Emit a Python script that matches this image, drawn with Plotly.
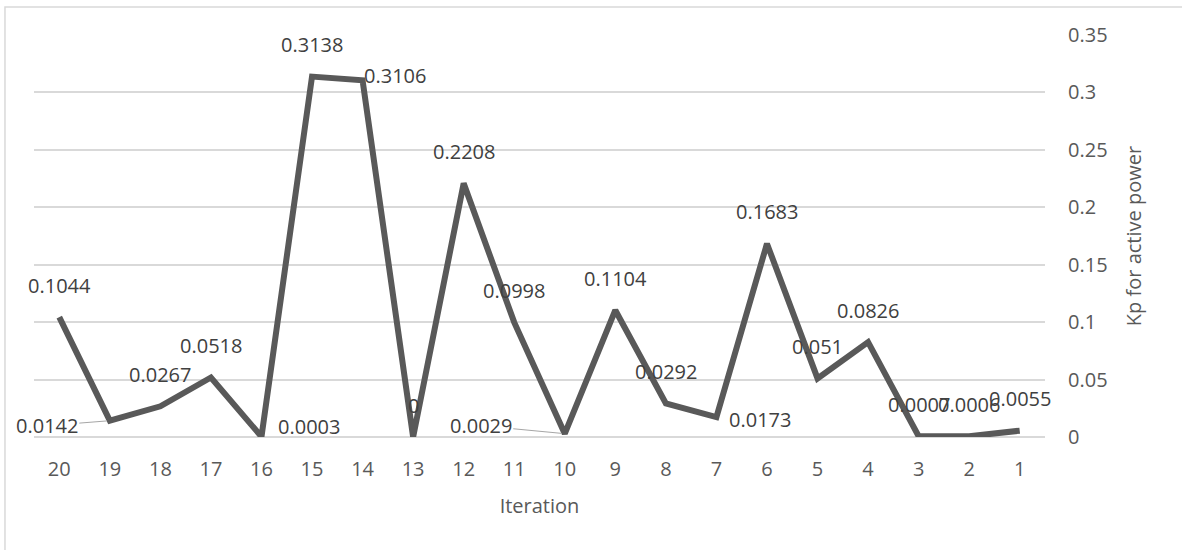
import plotly.graph_objects as go

# Iterations shown from 20 down to 1 (left to right)
iterations = ["20", "19", "18", "17", "16", "15", "14", "13", "12", "11",
              "10", "9", "8", "7", "6", "5", "4", "3", "2", "1"]
kp_values = [0.1044, 0.0142, 0.0267, 0.0518, 0.0003, 0.3138, 0.3106, 0, 0.2208, 0.0998,
             0.0029, 0.1104, 0.0292, 0.0173, 0.1683, 0.051, 0.0826, 0.0007, 0.0006, 0.0055]

y_ticks = [0, 0.05, 0.1, 0.15, 0.2, 0.25, 0.3, 0.35]
y_tick_text = ["0", "0.05", "0.1", "0.15", "0.2", "0.25", "0.3", "0.35"]

FONT = "Open Sans"
LABEL_COLOR = "#404040"
AXIS_COLOR = "#595959"
GRID_COLOR = "#d9d9d9"

# Label placement per point: (x shift px, y shift px, leader line)
ABOVE = (0, 32, False)
placement = {
    "19": (-63, -5, True),
    "16": (48, 10, False),
    "14": (32, 5, False),
    "10": (-84, 8, True),
    "7": (44, -2, False),
}

fig = go.Figure()
fig.add_trace(go.Scatter(
    x=iterations, y=kp_values, mode="lines",
    line=dict(color="#595959", width=6),
    hoverinfo="skip", showlegend=False,
))

annotations = []
for idx, (it, v) in enumerate(zip(iterations, kp_values)):
    dx, dy, leader = placement.get(it, ABOVE)
    txt = f"{v:g}"
    # category position given by its index along the axis
    if leader:
        annotations.append(dict(
            x=idx, y=v, xref="x", yref="y", text=txt,
            showarrow=True, arrowhead=0, arrowwidth=1, arrowcolor="#a6a6a6",
            ax=dx, ay=-dy, standoff=3,
            font=dict(family=FONT, size=20, color=LABEL_COLOR),
        ))
    else:
        annotations.append(dict(
            x=idx, y=v, xref="x", yref="y", text=txt, showarrow=False,
            xshift=dx, yshift=dy,
            font=dict(family=FONT, size=20, color=LABEL_COLOR),
        ))

fig.update_layout(
    width=1182, height=550,
    margin=dict(l=34, r=137, t=35, b=113),
    paper_bgcolor="white", plot_bgcolor="white",
    font=dict(family=FONT, size=20, color=AXIS_COLOR),
    annotations=annotations,
    xaxis=dict(
        type="category", categoryorder="array", categoryarray=iterations,
        range=[-0.5, len(iterations) - 0.5],
        showgrid=False, showline=False, zeroline=False,
        ticks="outside", ticklen=14, tickcolor="rgba(0,0,0,0)",
        tickfont=dict(family=FONT, size=20, color=AXIS_COLOR),
        title=dict(text="Iteration", standoff=17,
                   font=dict(family=FONT, size=20, color=AXIS_COLOR)),
        automargin=False,
    ),
    yaxis=dict(
        side="right", range=[0, 0.35],
        tickvals=y_ticks, ticktext=y_tick_text,
        showgrid=True, gridcolor=GRID_COLOR, gridwidth=1.5,
        zeroline=True, zerolinecolor=GRID_COLOR, zerolinewidth=1.5,
        showline=False,
        ticks="outside", ticklen=18, tickcolor="rgba(0,0,0,0)",
        tickfont=dict(family=FONT, size=20, color=AXIS_COLOR),
        title=dict(text="Kp for active power", standoff=20,
                   font=dict(family=FONT, size=20, color=AXIS_COLOR)),
        automargin=False,
    ),
    shapes=[dict(
        type="rect", xref="paper", yref="paper",
        x0=-0.0287, x1=1.3, y0=-0.5, y1=1.0697,
        line=dict(color=GRID_COLOR, width=1.5), fillcolor="rgba(0,0,0,0)",
        layer="below",
    )],
)

fig.write_html("out.html")
